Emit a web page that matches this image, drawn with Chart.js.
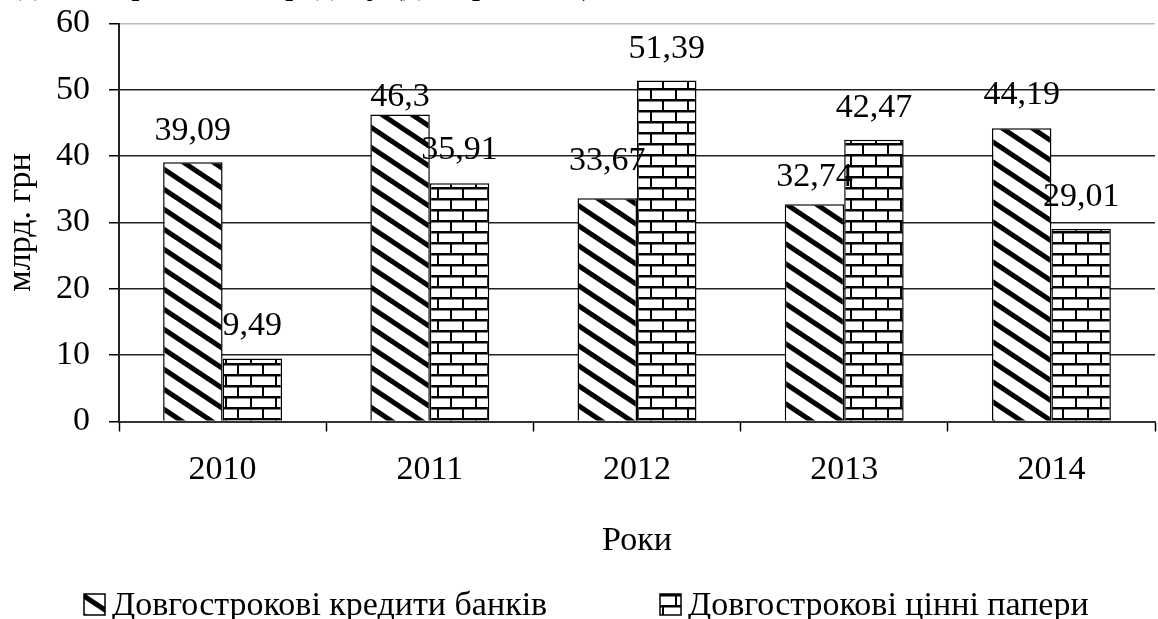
<!DOCTYPE html>
<html>
<head>
<meta charset="utf-8">
<script src="https://cdn.jsdelivr.net/npm/chart.js@4"></script>
<style>
  html, body { margin: 0; padding: 0; background: #fff; }
  #wrap { position: relative; width: 1158px; height: 619px; overflow: hidden; }
  #cut { position: absolute; left: -22px; top: -34px; font: 34px/34px "Liberation Serif", serif; color: #000; white-space: nowrap; z-index: 2; }
  canvas { position: absolute; left: 0; top: 0; }
</style>
</head>
<body>
<div id="wrap">
  <div id="cut">ку довгострокового кредиту (див. рис. 2.3).</div>
  <canvas id="chart" width="1158" height="619"></canvas>
</div>
<script>
const years = ["2010", "2011", "2012", "2013", "2014"]
const bankLoans = [39.09, 46.3, 33.67, 32.74, 44.19]
const securities = [9.49, 35.91, 51.39, 42.47, 29.01]
const seriesNames = ["Довгострокові кредити банків", "Довгострокові цінні папери"]
const yTitle = "млрд. грн"
const xTitle = "Роки"

// how far each value label sits above its bar (px), per dataset
const labelLift = [[31, 17, 37, 27, 33], [32, 33, 32, 32, 32]]

const FONT = "Liberation Serif"

function stripePattern() {
    const W = 30, H = 20
    const c = document.createElement("canvas")
    c.width = W; c.height = H
    const g = c.getContext("2d")
    g.fillStyle = "#fff"
    g.fillRect(0, 0, W, H)
    g.strokeStyle = "#000"
    g.lineWidth = 5
    for (let k = -1; k <= 1; k++) {
        g.beginPath()
        g.moveTo(-6, k * H - 6 * H / W)
        g.lineTo(W + 6, k * H + H + 6 * H / W)
        g.stroke()
    }
    return c.getContext("2d").createPattern(c, "repeat")
}

function brickPattern() {
    const W = 25, H = 22
    const c = document.createElement("canvas")
    c.width = W; c.height = H
    const g = c.getContext("2d")
    g.fillStyle = "#fff"
    g.fillRect(0, 0, W, H)
    g.fillStyle = "#000"
    g.fillRect(0, 0, W, 2.5)
    g.fillRect(0, 11, W, 2.5)
    g.fillRect(0, 0, 2, 11)
    g.fillRect(12, 11, 2, 11)
    return c.getContext("2d").createPattern(c, "repeat")
}

const fmt = v => v.toString().replace(".", ",")

const valueLabels = {
    id: "valueLabels",
    afterDatasetsDraw(chart) {
        const ctx = chart.ctx
        ctx.save()
        ctx.font = "34px " + FONT
        ctx.fillStyle = "#000"
        ctx.textAlign = "center"
        ctx.textBaseline = "middle"
        chart.data.datasets.forEach((ds, i) => {
            chart.getDatasetMeta(i).data.forEach((bar, j) => {
                ctx.fillText(fmt(ds.data[j]), bar.x, bar.y - labelLift[i][j])
            })
        })
        ctx.restore()
    }
}

const bottomLegend = {
    id: "bottomLegend",
    afterDraw(chart) {
        const ctx = chart.ctx
        const starts = [84, 660]
        ctx.save()
        ctx.font = "34px " + FONT
        ctx.textBaseline = "alphabetic"
        ctx.textAlign = "left"
        chart.data.datasets.forEach((ds, i) => {
            const x = starts[i], y = 594, s = 21
            ctx.fillStyle = ds.backgroundColor
            ctx.fillRect(x, y, s, s)
            ctx.strokeStyle = "#000"
            ctx.lineWidth = 1.5
            ctx.strokeRect(x, y, s, s)
            ctx.fillStyle = "#000"
            ctx.fillText(ds.label, x + s + 7, 615)
        })
        ctx.restore()
    }
}

new Chart(document.getElementById("chart").getContext("2d"), {
    type: "bar",
    data: {
        labels: years,
        datasets: [
            {
                label: seriesNames[0],
                data: bankLoans,
                backgroundColor: stripePattern(),
                borderColor: "#000",
                borderWidth: 1.5
            },
            {
                label: seriesNames[1],
                data: securities,
                backgroundColor: brickPattern(),
                borderColor: "#000",
                borderWidth: 1.5
            }
        ]
    },
    options: {
        responsive: false,
        animation: false,
        devicePixelRatio: 1,
        layout: { padding: { top: 23.5, right: 3, left: 0, bottom: 0 } },
        datasets: { bar: { categoryPercentage: 0.574, barPercentage: 1 } },
        plugins: {
            legend: { display: false },
            tooltip: { enabled: false }
        },
        scales: {
            x: {
                afterFit: s => { s.height = 197.5; s.paddingLeft = 0; s.paddingRight = 0 },
                grid: {
                    display: true,
                    drawOnChartArea: false,
                    drawTicks: true,
                    tickLength: 10,
                    tickColor: "#000",
                    tickWidth: 1.5,
                    offset: true
                },
                border: { color: "#333", width: 2 },
                ticks: { color: "#000", padding: 18, font: { family: FONT, size: 34 } },
                title: {
                    display: true,
                    text: xTitle,
                    color: "#000",
                    font: { family: FONT, size: 34 },
                    padding: { top: 0, bottom: 58 }
                }
            },
            y: {
                min: 0,
                max: 60,
                afterFit: s => { s.width = 119; s.paddingTop = 0; s.paddingBottom = 0 },
                ticks: { stepSize: 10, color: "#000", padding: 19, font: { family: FONT, size: 34 } },
                grid: {
                    color: c => c.tick && c.tick.value === 60 ? "#bbb" : "#222",
                    lineWidth: 1.5,
                    drawTicks: true,
                    tickLength: 10,
                    tickColor: "#000",
                    tickWidth: 1.5
                },
                border: { color: "#222", width: 2 },
                title: {
                    display: true,
                    text: yTitle,
                    color: "#000",
                    font: { family: FONT, size: 34 },
                    padding: { top: 1, bottom: 0 }
                }
            }
        }
    },
    plugins: [valueLabels, bottomLegend]
})
</script>
</body>
</html>
